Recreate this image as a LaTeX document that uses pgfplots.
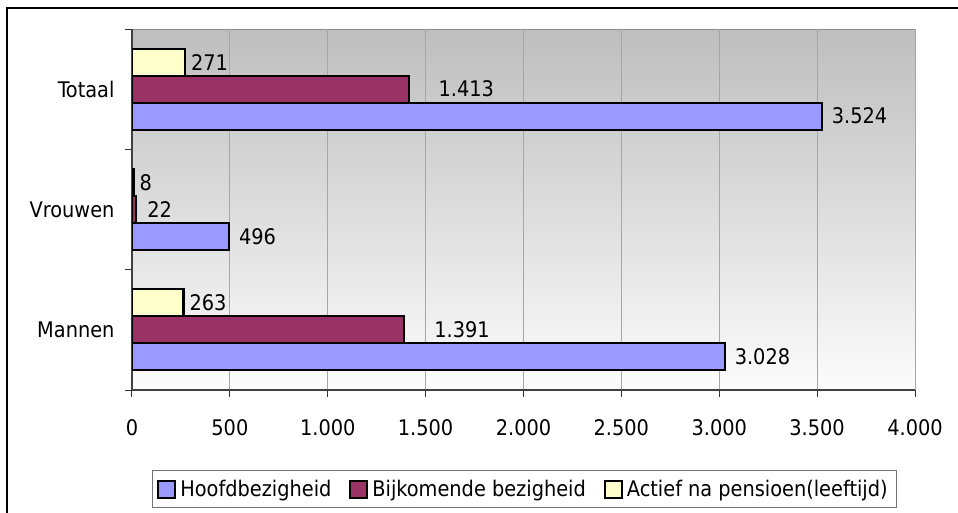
\documentclass[border=0pt]{standalone}
\usepackage{fontspec}
\setmainfont{DejaVu Sans Condensed}
\usepackage{pgfplots}
\pgfplotsset{compat=1.18}
\definecolor{cHoofd}{RGB}{153,153,255}
\definecolor{cBijk}{RGB}{153,51,102}
\definecolor{cActief}{RGB}{255,255,204}
\definecolor{bgtop}{RGB}{190,190,190}
\definecolor{bgbot}{RGB}{252,252,252}

\begin{document}
\begin{tikzpicture}[font=\fontsize{21.5}{25}\selectfont]
\clip (-132pt,-122pt) rectangle (826pt,390pt);
\fill[white] (-132pt,-122pt) rectangle (826pt,390pt);
\draw[black, line width=1.6pt] (-125pt,-200pt) rectangle (900pt,382pt);
\begin{axis}[
  scale only axis, width=783pt, height=361pt,
  at={(0,0)}, anchor=south west,
  xbar, bar width=0.224,
  xmin=0, xmax=4000, ymin=-0.5, ymax=2.5,
  xtick={0,500,...,4000},
  ytick={0,1,2}, yticklabels={Mannen,Vrouwen,Totaal},
  minor ytick={-0.5,0.5,1.5,2.5},
  ytick style={draw=none},
  minor y tick style={draw=black!80, line width=1pt},
  x tick style={draw=black!80, line width=1pt},
  tick align=outside,
  major tick length=7pt, minor tick length=7pt,
  xmajorgrids, major grid style={draw=black!35, line width=0.8pt},
  axis lines*=left,
  axis line style={-, draw=black!75, line width=1.6pt},
  axis background/.style={top color=bgtop, bottom color=bgbot, draw=black!45, line width=1pt},
  /pgf/number format/1000 sep={.},
  /pgf/number format/fixed,
  /pgf/number format/assume math mode=true,
  xticklabel style={yshift=-19pt},
  yticklabel style={xshift=-7pt},
  point meta=x,
  nodes near coords,
  nodes near coords align={horizontal},
  every node near coord/.append style={inner sep=0pt, anchor=west, text=black},
  legend columns=-1,
  legend style={at={(0.5,0)}, anchor=north, xshift=1pt, yshift=-80pt, draw=black!55, line width=1pt,
    fill=white, inner xsep=5pt, inner ysep=9pt,
    /tikz/every even column/.append style={column sep=14pt},
    nodes={inner xsep=4pt, inner ysep=0pt}},
  legend image code/.code={\draw[#1, draw=black, line width=2pt] (0pt,-8.5pt) rectangle (17pt,8.5pt);},
]
% categories: 0 = Mannen, 1 = Vrouwen, 2 = Totaal
\addplot[fill=cHoofd, draw=black, line width=2.1pt, bar shift=-0.224,
  every node near coord/.append style={xshift=9pt}]
  coordinates {(3028,0) (496,1) (3524,2)};
\addplot[fill=cBijk, draw=black, line width=2.1pt, bar shift=0,
  every node near coord/.append style={xshift=10pt}]
  coordinates {(22,1)};
\addplot[fill=cActief, draw=black, line width=2.1pt, bar shift=0.224,
  every node near coord/.append style={xshift=5pt}]
  coordinates {(263,0) (8,1) (271,2)};
\addplot[forget plot, fill=cBijk, draw=black, line width=2.1pt, bar shift=0,
  every node near coord/.append style={xshift=29pt}]
  coordinates {(1391,0) (1413,2)};
\legend{Hoofdbezigheid, Bijkomende bezigheid, Actief na pensioen(leeftijd)}
\end{axis}
\end{tikzpicture}
\end{document}
